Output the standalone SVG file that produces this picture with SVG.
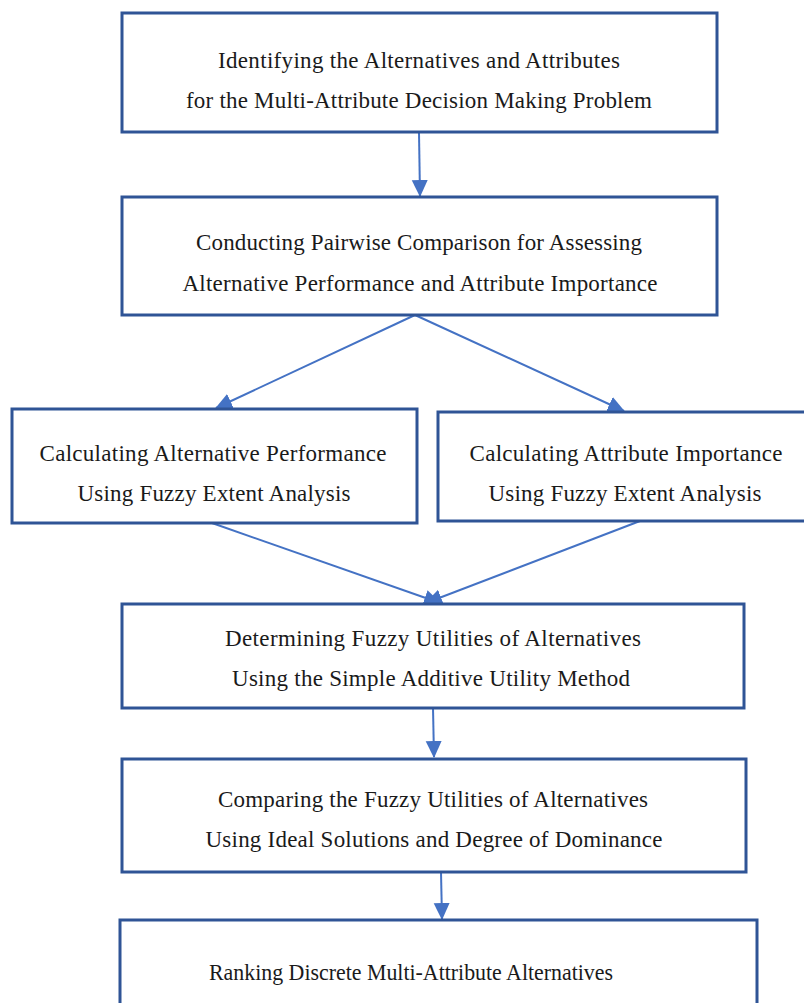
<svg xmlns="http://www.w3.org/2000/svg" width="804" height="1003" viewBox="0 0 804 1003">
<style>
.box{fill:#fff;stroke:#2f5496;stroke-width:3}
.t{font-family:"Liberation Serif","Times New Roman",serif;font-size:23px;fill:#1a1a1a;text-anchor:middle}
.c{stroke:#4472c4;stroke-width:2;fill:none}
</style>
<defs>
<marker id="ah2" markerWidth="18" markerHeight="18" refX="16" refY="9" orient="auto" markerUnits="userSpaceOnUse" viewBox="0 0 18 18">
<path d="M0,1 L17,9 L0,17 z" fill="#4472c4"/>
</marker>
</defs>
<rect width="804" height="1003" fill="#fff"/>
<g id="connectors">
<line class="c" x1="419" y1="133" x2="420" y2="196" marker-end="url(#ah2)"/>
<line class="c" x1="415" y1="315" x2="216" y2="408" marker-end="url(#ah2)"/>
<line class="c" x1="415" y1="315" x2="624" y2="411" marker-end="url(#ah2)"/>
<line class="c" x1="212" y1="523" x2="440" y2="603" marker-end="url(#ah2)"/>
<line class="c" x1="640" y1="521" x2="426" y2="603" marker-end="url(#ah2)"/>
<line class="c" x1="433" y1="708" x2="434" y2="757" marker-end="url(#ah2)"/>
<line class="c" x1="441" y1="872" x2="442" y2="919" marker-end="url(#ah2)"/>
</g>
<g id="n1">
<rect class="box" x="122" y="13" width="595" height="119"/>
<text class="t" x="419" y="68" textLength="402" lengthAdjust="spacing">Identifying the Alternatives and Attributes</text>
<text class="t" x="419" y="108" textLength="466" lengthAdjust="spacing">for the Multi-Attribute Decision Making Problem</text>
</g>
<g id="n2">
<rect class="box" x="122" y="197" width="595" height="118"/>
<text class="t" x="419" y="250" textLength="446" lengthAdjust="spacing">Conducting Pairwise Comparison for Assessing</text>
<text class="t" x="420" y="291" textLength="475" lengthAdjust="spacing">Alternative Performance and Attribute Importance</text>
</g>
<g id="n3">
<rect class="box" x="12" y="409" width="405" height="114"/>
<text class="t" x="213" y="461" textLength="347" lengthAdjust="spacing">Calculating Alternative Performance</text>
<text class="t" x="214" y="501" textLength="273" lengthAdjust="spacing">Using Fuzzy Extent Analysis</text>
</g>
<g id="n4">
<rect class="box" x="438" y="412" width="380" height="109"/>
<text class="t" x="626" y="461" textLength="313" lengthAdjust="spacing">Calculating Attribute Importance</text>
<text class="t" x="625" y="501" textLength="273" lengthAdjust="spacing">Using Fuzzy Extent Analysis</text>
</g>
<g id="n5">
<rect class="box" x="122" y="604" width="622" height="104"/>
<text class="t" x="433" y="646" textLength="416" lengthAdjust="spacing">Determining Fuzzy Utilities of Alternatives</text>
<text class="t" x="431" y="686" textLength="398" lengthAdjust="spacing">Using the Simple Additive Utility Method</text>
</g>
<g id="n6">
<rect class="box" x="122" y="759" width="624" height="113"/>
<text class="t" x="433" y="807" textLength="430" lengthAdjust="spacing">Comparing the Fuzzy Utilities of Alternatives</text>
<text class="t" x="434" y="847" textLength="457" lengthAdjust="spacing">Using Ideal Solutions and Degree of Dominance</text>
</g>
<g id="n7">
<rect class="box" x="120" y="920" width="637" height="100"/>
<text class="t" x="411" y="980" textLength="404" lengthAdjust="spacingAndGlyphs">Ranking Discrete Multi-Attribute Alternatives</text>
</g>
</svg>
